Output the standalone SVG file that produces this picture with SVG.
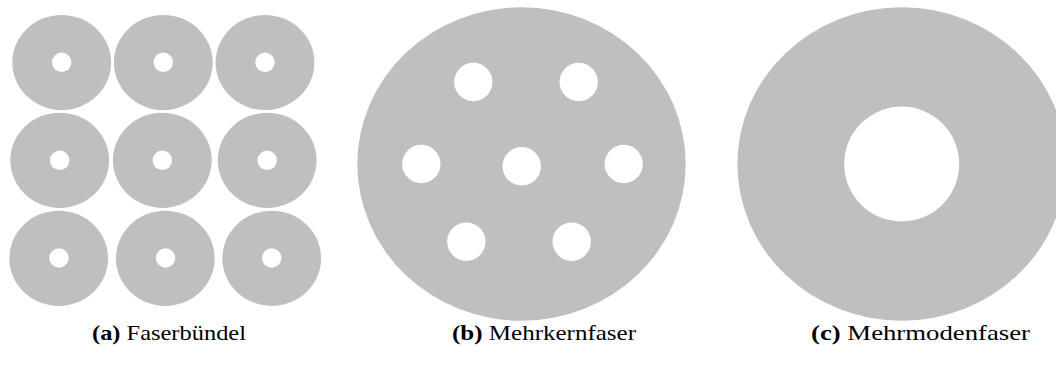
<svg xmlns="http://www.w3.org/2000/svg" width="1056" height="374" viewBox="0 0 1056 374">
<style>
.fib{fill:#bfbfbf;}
.core{fill:#ffffff;}
.lbl{font-family:"Liberation Serif","DejaVu Serif",serif;font-size:22px;fill:#000;}
.tag{font-weight:bold;}
</style>
<rect width="1056" height="374" fill="#fff"/>
<g id="bundle">
<g id="a11"><ellipse class="fib" cx="61.7" cy="62.5" rx="49.4" ry="47.5"/><circle class="core" cx="61.7" cy="62.3" r="9.7"/></g>
<g id="a12"><ellipse class="fib" cx="163.3" cy="62.5" rx="49.4" ry="47.5"/><circle class="core" cx="163.3" cy="62.3" r="9.7"/></g>
<g id="a13"><ellipse class="fib" cx="265" cy="62.5" rx="49.4" ry="47.5"/><circle class="core" cx="265" cy="62.3" r="9.7"/></g>
<g id="a21"><ellipse class="fib" cx="59.7" cy="160.3" rx="49.4" ry="47.6"/><circle class="core" cx="59.7" cy="160.3" r="9.7"/></g>
<g id="a22"><ellipse class="fib" cx="162.3" cy="160.3" rx="49.4" ry="47.6"/><circle class="core" cx="162.3" cy="160.3" r="9.7"/></g>
<g id="a23"><ellipse class="fib" cx="267.2" cy="160.3" rx="49.4" ry="47.6"/><circle class="core" cx="267.2" cy="160.3" r="9.7"/></g>
<g id="a31"><ellipse class="fib" cx="58.7" cy="258.3" rx="49.4" ry="47.6"/><circle class="core" cx="59" cy="258" r="9.7"/></g>
<g id="a32"><ellipse class="fib" cx="165.3" cy="258.3" rx="49.4" ry="47.6"/><circle class="core" cx="165.6" cy="258" r="9.7"/></g>
<g id="a33"><ellipse class="fib" cx="271.7" cy="258.3" rx="49.4" ry="47.6"/><circle class="core" cx="271.7" cy="258" r="9.7"/></g>
</g>
<g id="multicore">
<ellipse class="fib" cx="521.5" cy="164" rx="164.2" ry="156.7"/>
<circle class="core" cx="473.3" cy="82" r="19.2"/>
<circle class="core" cx="578.7" cy="82" r="19.2"/>
<circle class="core" cx="421.3" cy="164" r="19.2"/>
<circle class="core" cx="521.7" cy="166.3" r="19.2"/>
<circle class="core" cx="623.7" cy="164" r="19.2"/>
<circle class="core" cx="466.3" cy="241.7" r="19.2"/>
<circle class="core" cx="571.7" cy="241.7" r="19.2"/>
</g>
<g id="multimode">
<ellipse class="fib" cx="901.7" cy="164" rx="164.3" ry="156.7"/>
<circle class="core" cx="901.7" cy="164" r="57.5"/>
</g>
<g id="labels">
<text class="lbl" x="92" y="340" textLength="154" lengthAdjust="spacingAndGlyphs"><tspan class="tag">(a)</tspan> Faserbündel</text>
<text class="lbl" x="452" y="340" textLength="184" lengthAdjust="spacingAndGlyphs"><tspan class="tag">(b)</tspan> Mehrkernfaser</text>
<text class="lbl" x="811" y="340" textLength="219" lengthAdjust="spacingAndGlyphs"><tspan class="tag">(c)</tspan> Mehrmodenfaser</text>
</g>
</svg>
